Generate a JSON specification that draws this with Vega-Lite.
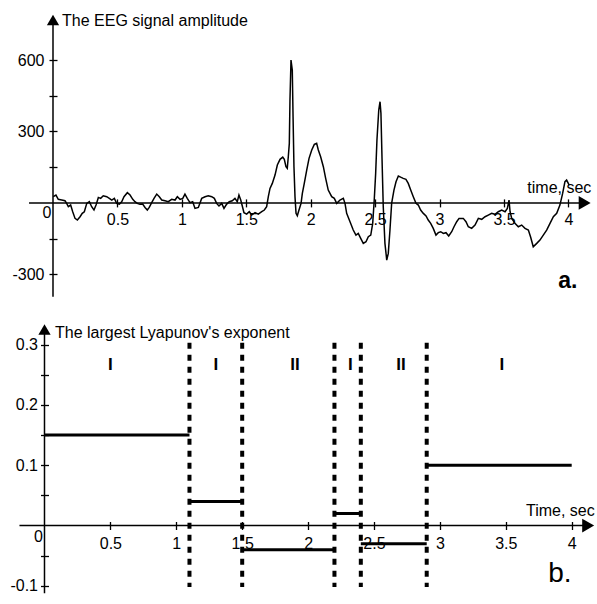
{
  "$schema": "https://vega.github.io/schema/vega-lite/v6.json",
  "padding": 0,
  "spacing": 0,
  "bounds": "flush",
  "background": "white",
  "config": {
    "view": {"stroke": null},
    "font": "Liberation Sans",
    "axis": {
      "domain": false, "grid": false, "tickColor": "black", "tickWidth": 1.3,
      "labelColor": "black", "labelFont": "Liberation Sans", "labelFontSize": 16,
      "labelOverlap": false, "labelFlush": false, "labelBound": false
    }
  },
  "datasets": {
    "eeg": [
      {"t":0.002,"v":26},{"t":0.023,"v":33},{"t":0.041,"v":15},{"t":0.068,"v":12},{"t":0.093,"v":9},{"t":0.106,"v":-2},{"t":0.119,"v":-16},{"t":0.137,"v":-9},{"t":0.153,"v":-37},{"t":0.171,"v":-65},{"t":0.189,"v":-72},{"t":0.210,"v":-58},{"t":0.227,"v":-44},{"t":0.243,"v":-37},{"t":0.262,"v":-2},{"t":0.282,"v":5},{"t":0.300,"v":-16},{"t":0.318,"v":-30},{"t":0.334,"v":-9},{"t":0.352,"v":23},{"t":0.370,"v":19},{"t":0.390,"v":30},{"t":0.417,"v":26},{"t":0.437,"v":19},{"t":0.456,"v":12},{"t":0.476,"v":19},{"t":0.494,"v":-2},{"t":0.515,"v":-5},{"t":0.533,"v":5},{"t":0.551,"v":26},{"t":0.577,"v":43},{"t":0.598,"v":33},{"t":0.619,"v":15},{"t":0.636,"v":5},{"t":0.654,"v":-2},{"t":0.675,"v":-6},{"t":0.696,"v":-5},{"t":0.714,"v":-19},{"t":0.732,"v":-30},{"t":0.747,"v":-19},{"t":0.766,"v":1},{"t":0.784,"v":19},{"t":0.805,"v":37},{"t":0.825,"v":26},{"t":0.844,"v":12},{"t":0.869,"v":9},{"t":0.895,"v":5},{"t":0.921,"v":15},{"t":0.947,"v":12},{"t":0.965,"v":26},{"t":0.986,"v":15},{"t":1.007,"v":19},{"t":1.024,"v":37},{"t":1.042,"v":19},{"t":1.063,"v":1},{"t":1.084,"v":5},{"t":1.102,"v":-23},{"t":1.128,"v":-19},{"t":1.154,"v":19},{"t":1.180,"v":26},{"t":1.205,"v":30},{"t":1.232,"v":26},{"t":1.252,"v":19},{"t":1.270,"v":-2},{"t":1.288,"v":-13},{"t":1.309,"v":-2},{"t":1.327,"v":-23},{"t":1.348,"v":-5},{"t":1.368,"v":5},{"t":1.391,"v":9},{"t":1.412,"v":19},{"t":1.430,"v":5},{"t":1.443,"v":33},{"t":1.457,"v":12},{"t":1.469,"v":-13},{"t":1.482,"v":-41},{"t":1.503,"v":-47},{"t":1.523,"v":-37},{"t":1.542,"v":-51},{"t":1.568,"v":-41},{"t":1.593,"v":-47},{"t":1.620,"v":-37},{"t":1.640,"v":-30},{"t":1.658,"v":-16},{"t":1.671,"v":26},{"t":1.684,"v":61},{"t":1.702,"v":82},{"t":1.723,"v":117},{"t":1.741,"v":159},{"t":1.762,"v":183},{"t":1.783,"v":192},{"t":1.795,"v":183},{"t":1.808,"v":152},{"t":1.818,"v":145},{"t":1.826,"v":194},{"t":1.834,"v":250},{"t":1.839,"v":432},{"t":1.847,"v":600},{"t":1.857,"v":558},{"t":1.863,"v":362},{"t":1.870,"v":152},{"t":1.878,"v":26},{"t":1.886,"v":-44},{"t":1.896,"v":-54},{"t":1.909,"v":-30},{"t":1.925,"v":-2},{"t":1.935,"v":40},{"t":1.950,"v":82},{"t":1.969,"v":138},{"t":1.987,"v":187},{"t":2.008,"v":222},{"t":2.028,"v":246},{"t":2.046,"v":250},{"t":2.059,"v":222},{"t":2.077,"v":194},{"t":2.098,"v":152},{"t":2.116,"v":103},{"t":2.136,"v":54},{"t":2.163,"v":26},{"t":2.183,"v":19},{"t":2.202,"v":-2},{"t":2.227,"v":12},{"t":2.253,"v":19},{"t":2.266,"v":-2},{"t":2.279,"v":-44},{"t":2.305,"v":-79},{"t":2.330,"v":-114},{"t":2.351,"v":-135},{"t":2.369,"v":-128},{"t":2.388,"v":-149},{"t":2.408,"v":-170},{"t":2.429,"v":-163},{"t":2.447,"v":-142},{"t":2.466,"v":-135},{"t":2.481,"v":-86},{"t":2.493,"v":12},{"t":2.504,"v":124},{"t":2.514,"v":264},{"t":2.528,"v":390},{"t":2.538,"v":425},{"t":2.545,"v":376},{"t":2.553,"v":194},{"t":2.563,"v":-16},{"t":2.576,"v":-170},{"t":2.590,"v":-240},{"t":2.602,"v":-212},{"t":2.615,"v":-114},{"t":2.628,"v":-2},{"t":2.646,"v":54},{"t":2.662,"v":89},{"t":2.680,"v":113},{"t":2.698,"v":108},{"t":2.718,"v":103},{"t":2.739,"v":99},{"t":2.757,"v":82},{"t":2.776,"v":54},{"t":2.796,"v":26},{"t":2.817,"v":-2},{"t":2.835,"v":-9},{"t":2.853,"v":-30},{"t":2.874,"v":-44},{"t":2.895,"v":-55},{"t":2.912,"v":-72},{"t":2.931,"v":-86},{"t":2.951,"v":-107},{"t":2.972,"v":-135},{"t":2.990,"v":-125},{"t":3.009,"v":-121},{"t":3.029,"v":-128},{"t":3.050,"v":-125},{"t":3.071,"v":-139},{"t":3.094,"v":-121},{"t":3.112,"v":-100},{"t":3.133,"v":-79},{"t":3.151,"v":-65},{"t":3.184,"v":-65},{"t":3.205,"v":-79},{"t":3.223,"v":-100},{"t":3.249,"v":-107},{"t":3.275,"v":-93},{"t":3.301,"v":-65},{"t":3.327,"v":-69},{"t":3.353,"v":-58},{"t":3.378,"v":-51},{"t":3.404,"v":-44},{"t":3.430,"v":-48},{"t":3.456,"v":-37},{"t":3.482,"v":-30},{"t":3.508,"v":-37},{"t":3.526,"v":-23},{"t":3.539,"v":12},{"t":3.547,"v":-37},{"t":3.560,"v":-65},{"t":3.585,"v":-86},{"t":3.611,"v":-100},{"t":3.637,"v":-93},{"t":3.663,"v":-107},{"t":3.689,"v":-114},{"t":3.707,"v":-144},{"t":3.727,"v":-184},{"t":3.754,"v":-170},{"t":3.779,"v":-156},{"t":3.805,"v":-135},{"t":3.831,"v":-114},{"t":3.857,"v":-86},{"t":3.883,"v":-58},{"t":3.909,"v":-44},{"t":3.934,"v":-9},{"t":3.955,"v":40},{"t":3.973,"v":89},{"t":3.986,"v":96},{"t":4.006,"v":75}
    ],
    "eegAxes": [
      {"t":-0.186,"v":0,"t2":4.13,"v2":0},
      {"t":0,"v":-394,"t2":0,"v2":761}
    ],
    "lyapAxes": [
      {"t":-0.19,"v":0,"t2":4.12,"v2":0},
      {"t":0,"v":-0.112,"t2":0,"v2":0.325}
    ],
    "steps": [
      {"t":0,"t2":1.1,"v":0.15},
      {"t":1.1,"t2":1.5,"v":0.04},
      {"t":1.5,"t2":2.2,"v":-0.04},
      {"t":2.2,"t2":2.4,"v":0.02},
      {"t":2.4,"t2":2.9,"v":-0.03},
      {"t":2.9,"t2":4.0,"v":0.1}
    ],
    "bounds": [
      {"t":1.1,"v":0.303,"v2":-0.102},
      {"t":1.5,"v":0.303,"v2":-0.102},
      {"t":2.2,"v":0.303,"v2":-0.102},
      {"t":2.4,"v":0.303,"v2":-0.102},
      {"t":2.9,"v":0.303,"v2":-0.102}
    ],
    "regimes": [
      {"t":0.5,"v":0.266,"label":"I"},
      {"t":1.3,"v":0.266,"label":"I"},
      {"t":1.9,"v":0.266,"label":"II"},
      {"t":2.32,"v":0.266,"label":"I"},
      {"t":2.705,"v":0.266,"label":"II"},
      {"t":3.47,"v":0.266,"label":"I"}
    ]
  },
  "vconcat": [
    {
      "width": 597,
      "height": 300,
      "encoding": {
        "x": {"field": "t", "type": "quantitative",
          "scale": {"domain": [-0.4113, 4.2217], "nice": false, "zero": false},
          "axis": {"title": null, "orient": "bottom", "offset": -101.1, "values": [0.5,1,1.5,2,2.5,3,3.5,4], "labelExpr": "'' + datum.value", "tickSize": 8, "labelPadding": 5}},
        "y": {"field": "v", "type": "quantitative",
          "scale": {"domain": [-407.8, 852.2], "nice": false, "zero": false},
          "axis": {"title": null, "orient": "left", "offset": -57, "values": [-300,-150,150,300,450,600], "labelExpr": "datum.value % 300 == 0 ? '' + datum.value : ''", "tickSize": 8, "labelPadding": 5}}
      },
      "layer": [
        {"data": {"name": "eegAxes"}, "mark": {"type": "rule", "strokeWidth": 1.5, "color": "black"},
          "encoding": {"x2": {"field": "t2"}, "y2": {"field": "v2"}}},
        {"data": {"values": [{"t": 0, "v": 768}]}, "mark": {"type": "point", "shape": "triangle-up", "filled": true, "size": 150, "color": "black", "opacity": 1, "strokeWidth": 0}},
        {"data": {"values": [{"t": 4.126, "v": 0}]}, "mark": {"type": "point", "shape": "triangle-right", "filled": true, "size": 190, "color": "black", "opacity": 1, "strokeWidth": 0}},
        {"data": {"name": "eeg"}, "mark": {"type": "line", "strokeWidth": 1.5, "color": "black"}},
        {"data": {"values": [{"t": 0.07, "v": 742, "label": "The EEG signal amplitude"}, {"t": 3.681, "v": 43, "label": "time, sec"}]},
          "mark": {"type": "text", "align": "left", "baseline": "alphabetic", "fontSize": 16, "color": "black"},
          "encoding": {"text": {"field": "label"}}},
        {"data": {"values": [{"t": 3.921, "v": -359, "label": "a."}]},
          "mark": {"type": "text", "align": "left", "baseline": "alphabetic", "fontSize": 23, "fontWeight": "bold", "color": "black"},
          "encoding": {"text": {"field": "label"}}},
        {"data": {"values": [{"t": 0, "v": 0, "label": "0"}]},
          "mark": {"type": "text", "align": "center", "baseline": "middle", "fontSize": 16, "dx": -6, "dy": 10, "color": "black"},
          "encoding": {"text": {"field": "label"}}}
      ]
    },
    {
      "width": 597,
      "height": 304,
      "encoding": {
        "x": {"field": "t", "type": "quantitative",
          "scale": {"domain": [-0.3376, 4.192], "nice": false, "zero": false},
          "axis": {"title": null, "orient": "bottom", "offset": -82.5, "values": [0.5,1,1.5,2,2.5,3,3.5,4], "labelExpr": "'' + datum.value", "tickSize": 8, "labelPadding": 6}},
        "y": {"field": "v", "type": "quantitative",
          "scale": {"domain": [-0.130, 0.374], "nice": false, "zero": false},
          "axis": {"title": null, "orient": "left", "offset": -48.5, "values": [-0.1,-0.05,0.05,0.1,0.15,0.2,0.25,0.3], "labelExpr": "abs(datum.value*10 - round(datum.value*10)) < 0.01 ? '' + datum.value : ''", "tickSize": 8, "labelPadding": 3}}
      },
      "layer": [
        {"data": {"name": "lyapAxes"}, "mark": {"type": "rule", "strokeWidth": 1.5, "color": "black"},
          "encoding": {"x2": {"field": "t2"}, "y2": {"field": "v2"}}},
        {"data": {"values": [{"t": 0, "v": 0.325}]}, "mark": {"type": "point", "shape": "triangle-up", "filled": true, "size": 150, "color": "black", "opacity": 1, "strokeWidth": 0}},
        {"data": {"values": [{"t": 4.125, "v": 0}]}, "mark": {"type": "point", "shape": "triangle-right", "filled": true, "size": 190, "color": "black", "opacity": 1, "strokeWidth": 0}},
        {"data": {"name": "steps"}, "mark": {"type": "rule", "strokeWidth": 3, "color": "black", "strokeCap": "butt"},
          "encoding": {"x2": {"field": "t2"}}},
        {"data": {"name": "bounds"}, "mark": {"type": "rule", "strokeWidth": 4, "color": "black", "strokeDash": [6, 6], "strokeCap": "butt"},
          "encoding": {"y2": {"field": "v2"}}},
        {"data": {"name": "regimes"}, "mark": {"type": "text", "align": "center", "baseline": "middle", "fontSize": 17, "fontWeight": "bold", "color": "black"},
          "encoding": {"text": {"field": "label"}}},
        {"data": {"values": [{"t": 0.08, "v": 0.3104, "label": "The largest Lyapunov's exponent"}, {"t": 3.653, "v": 0.0166, "label": "Time, sec"}]},
          "mark": {"type": "text", "align": "left", "baseline": "alphabetic", "fontSize": 16, "color": "black"},
          "encoding": {"text": {"field": "label"}}},
        {"data": {"values": [{"t": 3.822, "v": -0.0932, "label": "b."}]},
          "mark": {"type": "text", "align": "left", "baseline": "alphabetic", "fontSize": 28, "color": "black"},
          "encoding": {"text": {"field": "label"}}},
        {"data": {"values": [{"t": 0, "v": 0, "label": "0"}]},
          "mark": {"type": "text", "align": "center", "baseline": "middle", "fontSize": 16, "dx": -6, "dy": 11, "color": "black"},
          "encoding": {"text": {"field": "label"}}}
      ]
    }
  ]
}
